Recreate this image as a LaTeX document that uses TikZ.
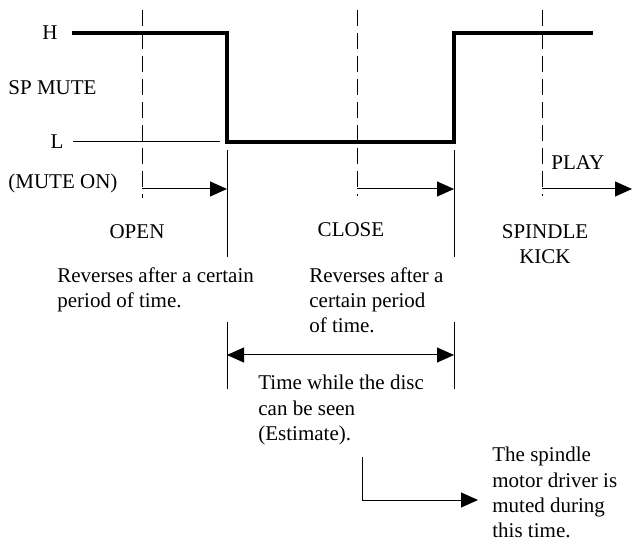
\documentclass[tikz,border=0pt]{standalone}
\usepackage{fontspec}
\setmainfont{Liberation Serif}
\usetikzlibrary{arrows.meta}

\begin{document}
\begin{tikzpicture}[x=0.5pt,y=-0.5pt,font=\fontsize{10.5}{12.6}\selectfont,
  signal/.style={line width=2pt},
  guide/.style={line width=0.5pt},
  markline/.style={line width=0.5pt,dash pattern=on 8pt off 3.5pt},
  arr/.style={line width=0.5pt,-{Triangle[length=8.5pt,width=7.5pt]}},
  darr/.style={line width=0.5pt,{Triangle[length=8.5pt,width=7.5pt]}-{Triangle[length=8.5pt,width=7.5pt]}},
  lbl/.style={inner sep=0pt},
  note/.style={inner sep=0pt,align=left,anchor=north west}]
\path[use as bounding box] (0,0) rectangle (633,551);
\coordinate (h0) at (72,33);
\coordinate (fallH) at (227,33);
\coordinate (fallL) at (227,142);
\coordinate (riseL) at (454,142);
\coordinate (riseH) at (454,33);
\coordinate (h1) at (593,33);
\coordinate (l0) at (73,142);
\coordinate (l1) at (220,142);
\draw[signal] (h0) -- (fallH) -- (fallL) -- (riseL) -- (riseH) -- (h1);
\draw[guide] (l0) -- (l1);
\foreach \n/\x/\b in {open/142/198,close/357/196,kick/542/196}{
  \coordinate (\n top) at (\x,10);
  \coordinate (\n bot) at (\x,\b);
  \draw[markline] (\n top) -- (\n bot);
}
\foreach \n/\x in {fall/227,rise/454}{
  \coordinate (\n a) at (\x,150);
  \coordinate (\n b) at (\x,257);
  \coordinate (\n c) at (\x,322);
  \coordinate (\n d) at (\x,389);
  \draw[guide] (\n a) -- (\n b);
  \draw[guide] (\n c) -- (\n d);
}
\coordinate (open s) at (142,189);
\coordinate (open e) at (227,189);
\coordinate (close s) at (357,189);
\coordinate (close e) at (454,189);
\coordinate (kick s) at (542,189);
\coordinate (kick e) at (632,189);
\draw[arr] (open s) -- (open e);
\draw[arr] (close s) -- (close e);
\draw[arr] (kick s) -- (kick e);
\coordinate (see s) at (227,355);
\coordinate (see e) at (454,355);
\draw[darr] (see s) -- (see e);
\coordinate (mute s) at (362,457);
\coordinate (mute k) at (362,500);
\coordinate (mute e) at (478,500);
\draw[arr] (mute s) -- (mute k) -- (mute e);
\node[lbl] (hlev) at (50,33) {H};
\node[lbl,anchor=west] (spmute) at (8,88) {SP MUTE};
\node[lbl] (llev) at (57,142) {L};
\node[lbl,anchor=west] (muteon) at (8,183) {(MUTE ON)};
\node[lbl] (open) at (137,232) {OPEN};
\node[lbl] (close) at (351,230) {CLOSE};
\node[lbl,align=center,anchor=north] (kick) at (545,224) {SPINDLE\\KICK};
\node[lbl,anchor=west] (play) at (551,163) {PLAY};
\node[note] (revopen) at (57,267) {Reverses after a certain\\period of time.};
\node[note] (revclose) at (309,267) {Reverses after a\\certain period\\of time.};
\node[note] (seen) at (258,375) {Time while the disc\\can be seen\\(Estimate).};
\node[note] (muted) at (492,447) {The spindle\\motor driver is\\muted during\\this time.};
\end{tikzpicture}
\end{document}
